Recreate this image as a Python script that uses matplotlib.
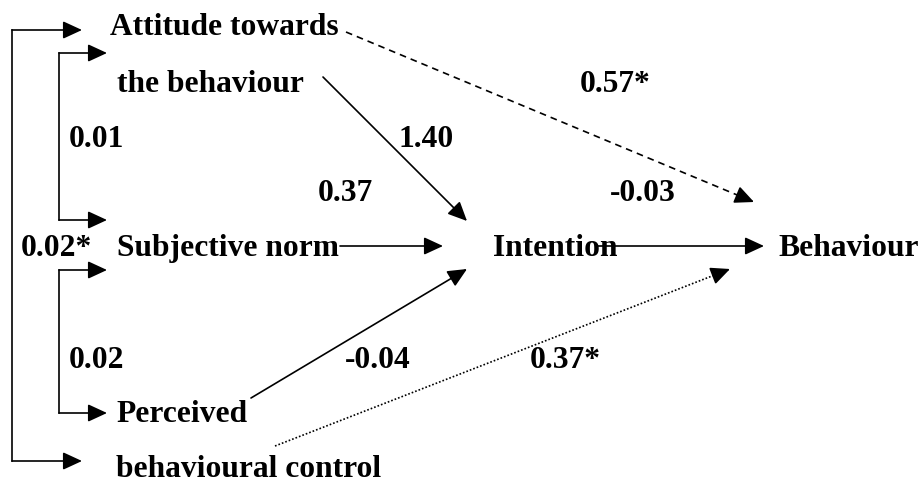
import matplotlib.pyplot as plt
import numpy as np

# node labels and path coefficients
nodes = ['Attitude towards', 'the behaviour', 'Subjective norm', 'Intention',
         'Behaviour', 'Perceived', 'behavioural control']
coefs = ['0.01', '0.02*', '0.02', '1.40', '0.37', '-0.04',
         '0.57*', '-0.03', '0.37*']

# text anchors (x left, y baseline) in pixel space of the 921x481 canvas
node_pos = [(110, 35), (117, 92), (117, 256), (493, 256),
            (778, 256), (116, 422), (116, 477)]
coef_pos = [(69, 147), (21, 256), (69, 368), (398, 147), (318, 201),
            (345, 368), (580, 92), (610, 201), (530, 368)]

plt.rcParams['font.family'] = 'Liberation Serif'
fig = plt.figure(figsize=(9.21, 4.81), dpi=100)
ax = fig.add_axes([0, 0, 1, 1])
ax.set_xlim(0, 921)
ax.set_ylim(481, 0)
ax.axis('off')

for name, (x, y) in zip(nodes, node_pos):
    ax.text(x, y, name, fontsize=22.7, fontweight='bold', ha='left', va='baseline')
for c, (x, y) in zip(coefs, coef_pos):
    ax.text(x, y, c, fontsize=22.7, fontweight='bold', ha='left', va='baseline')

HEAD = '-|>,head_length=0.65,head_width=0.3'


def arrow(p0, p1, ls='-'):
    if ls == '-':
        ax.annotate('', xy=p1, xytext=p0,
                    arrowprops=dict(arrowstyle=HEAD, mutation_scale=18,
                                    color='black', lw=1.2, shrinkA=0, shrinkB=0))
        return
    # dashed / dotted shaft with a solid head
    p0, p1 = np.array(p0, float), np.array(p1, float)
    d = (p1 - p0) / np.hypot(*(p1 - p0))
    q = p1 - d * 14
    ax.plot([p0[0], q[0]], [p0[1], q[1]], color='black', lw=1.2, linestyle=ls)
    ax.annotate('', xy=p1, xytext=p1 - d * 16,
                arrowprops=dict(arrowstyle=HEAD, mutation_scale=18,
                                color='black', lw=1.2, shrinkA=0, shrinkB=0))


# correlation brackets on the left
ax.plot([12, 12], [31, 462], color='black', lw=1.2)
arrow((12, 31), (82, 31))
arrow((12, 462), (82, 462))
ax.plot([59, 59], [54, 221], color='black', lw=1.2)
arrow((59, 54), (107, 54))
arrow((59, 221), (107, 221))
ax.plot([59, 59], [271, 414], color='black', lw=1.2)
arrow((59, 271), (107, 271))
arrow((59, 414), (107, 414))

# structural paths
arrow((323, 78), (467, 222))
arrow((340, 247), (443, 247))
arrow((251, 399), (467, 270))
arrow((598, 247), (764, 247))
arrow((346, 33), (754, 203), ls=(0, (4, 3)))
arrow((275, 447), (730, 270), ls=(0, (1, 1.2)))

fig.savefig('out.png', dpi=100)
